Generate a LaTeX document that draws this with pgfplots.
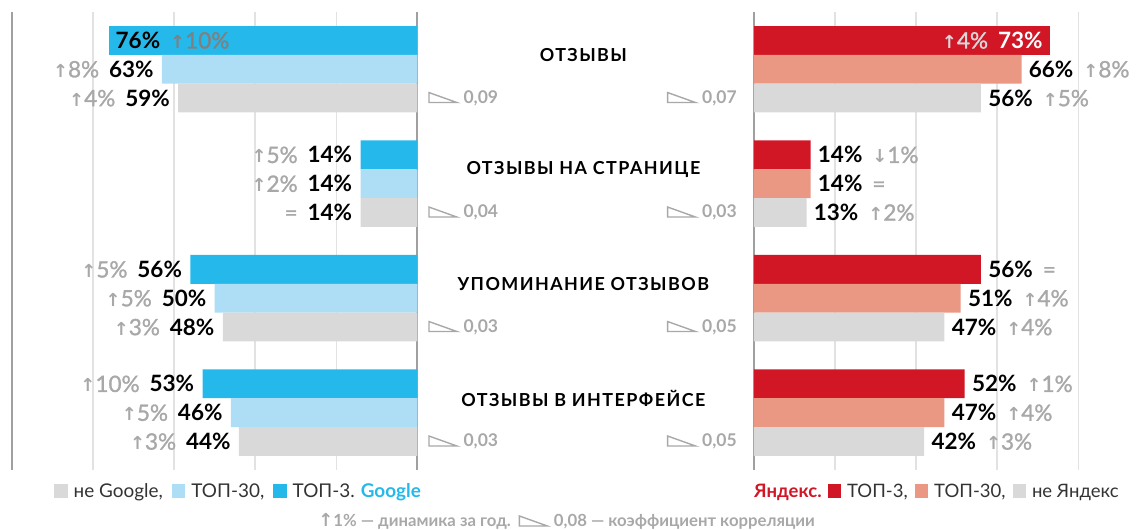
\documentclass[border=0pt]{standalone}
\usepackage{pgfplots}
\pgfplotsset{compat=1.18}
\usepackage{fontspec}
\setmainfont{Lato}
\newfontfamily\sym{DejaVu Sans}
\definecolor{gA}{HTML}{25B9EB}
\definecolor{gB}{HTML}{AEDDF6}
\definecolor{nn}{HTML}{D9D9D9}
\definecolor{yA}{HTML}{D11626}
\definecolor{yB}{HTML}{EA9784}
\definecolor{chg}{HTML}{A8A8A8}
\definecolor{gridc}{HTML}{E2E2E2}
\definecolor{axc}{HTML}{A0A0A0}
\definecolor{txt}{HTML}{333333}
\DeclareRobustCommand\arr{{\sym\bfseries\fontsize{9}{9}\selectfont ↑}}
\DeclareRobustCommand\darr{{\sym\bfseries\fontsize{9}{9}\selectfont ↓}}
\DeclareRobustCommand\semi{\addfontfeature{FakeBold=1.3}}
\DeclareRobustCommand\up[1]{\textcolor{chg}{\arr{\semi#1\%}}}
\DeclareRobustCommand\dn[1]{\textcolor{chg}{\darr{\semi#1\%}}}
\DeclareRobustCommand\eq{\textcolor{chg}{\semi=}}
\DeclareRobustCommand\gap{\hspace{5pt}}
\DeclareRobustCommand\V[1]{\textbf{#1\%}}
\newsavebox\tri
\DeclareRobustCommand\corr[1]{\textcolor{chg}{\usebox\tri\hspace{3pt}\textbf{#1}}}
\DeclareRobustCommand\sq[1]{\textcolor{#1}{\rule{6.8pt}{6.8pt}}}
\pgfplotsset{
  half/.style={
    scale only axis, height=230pt,
    ymin=-0.5, ymax=3.5, y dir=reverse,
    axis line style={draw=none},
    xtick={20,40,60,80}, xticklabels={}, ytick=\empty,
    major tick length=0pt,
    xmajorgrids, grid style={color=gridc, line width=0.7pt},
    extra x tick labels={},
    extra x tick style={grid style={color=axc, line width=1pt}},
    xbar, bar width=0.252,
    clip=false,
    point meta=explicit symbolic,
    nodes near coords,
    every node near coord/.append style={font=\fontsize{11.3}{12}\selectfont, inner sep=0pt, text=black},
  },
}
\tikzset{
  corrL/.style={anchor=west, xshift=2pt, font=\fontsize{8.8}{9}\selectfont},
  corrR/.style={anchor=east, xshift=-5pt, font=\fontsize{8.8}{9}\selectfont},
  cat/.style={font=\fontsize{9}{10}\selectfont\bfseries\addfontfeature{LetterSpace=8}},
}
\begin{document}
\sbox\tri{\tikz\draw[chg, line width=0.7pt] (0,0) -- (14pt,0) -- (0,5pt) -- cycle;}
\begin{tikzpicture}
\useasboundingbox (0,0) rectangle (573.5pt,266pt);
% ---------------- Google ----------------
\begin{axis}[half,
  at={(3.5pt,30pt)}, anchor=south west, width=203.5pt,
  xmin=0, xmax=100, x dir=reverse,
  extra x ticks={0,100},
  every node near coord/.append style={anchor=east, xshift=-4pt},
]
\addplot[draw=none, fill=gA, bar shift=-0.252,
  every node near coord/.append style={anchor=west, xshift=7pt}]
  coordinates {(76,0) [\V{76}\gap\textcolor{black!50}{\arr{\semi10\%}}]};
\addplot[draw=none, fill=gA, bar shift=-0.252] coordinates {
  (14,1) [\up{5}\gap\V{14}]
  (56,2) [\up{5}\gap\V{56}]
  (53,3) [\up{10}\gap\V{53}]
};
\addplot[draw=none, fill=gB, bar shift=0] coordinates {
  (63,0) [\up{8}\gap\V{63}]
  (14,1) [\up{2}\gap\V{14}]
  (50,2) [\up{5}\gap\V{50}]
  (46,3) [\up{5}\gap\V{46}]
};
\addplot[draw=none, fill=nn, bar shift=0.252] coordinates {
  (59,0) [\up{4}\gap\V{59}]
  (14,1) [\eq\gap\V{14}]
  (48,2) [\up{3}\gap\V{48}]
  (44,3) [\up{3}\gap\V{44}]
};
\node[corrL] at (axis cs:0,0.252) {\corr{0,09}};
\node[corrL] at (axis cs:0,1.252) {\corr{0,04}};
\node[corrL] at (axis cs:0,2.252) {\corr{0,03}};
\node[corrL] at (axis cs:0,3.252) {\corr{0,03}};
\node[cat] at (axis cs:-41,-0.126) {ОТЗЫВЫ};
\node[cat] at (axis cs:-41,0.874) {ОТЗЫВЫ НА СТРАНИЦЕ};
\node[cat] at (axis cs:-41,1.874) {УПОМИНАНИЕ ОТЗЫВОВ};
\node[cat] at (axis cs:-41,2.874) {ОТЗЫВЫ В ИНТЕРФЕЙСЕ};
\end{axis}
% ---------------- Yandex ----------------
\begin{axis}[half,
  at={(376pt,30pt)}, anchor=south west, width=197.5pt,
  xmin=0, xmax=96.93,
  extra x ticks={0},
  every node near coord/.append style={anchor=west, xshift=3.5pt},
]
\addplot[draw=none, fill=yA, bar shift=-0.252,
  every node near coord/.append style={anchor=east, xshift=-7pt, text=white}]
  coordinates {(73,0) [\textcolor{nn}{\arr{\semi4\%}}\gap\V{73}]};
\addplot[draw=none, fill=yA, bar shift=-0.252] coordinates {
  (14,1) [\V{14}\gap\dn{1}]
  (56,2) [\V{56}\gap\eq]
  (52,3) [\V{52}\gap\up{1}]
};
\addplot[draw=none, fill=yB, bar shift=0] coordinates {
  (66,0) [\V{66}\gap\up{8}]
  (14,1) [\V{14}\gap\eq]
  (51,2) [\V{51}\gap\up{4}]
  (47,3) [\V{47}\gap\up{4}]
};
\addplot[draw=none, fill=nn, bar shift=0.252] coordinates {
  (56,0) [\V{56}\gap\up{5}]
  (13,1) [\V{13}\gap\up{2}]
  (47,2) [\V{47}\gap\up{4}]
  (42,3) [\V{42}\gap\up{3}]
};
\node[corrR] at (axis cs:0,0.252) {\corr{0,07}};
\node[corrR] at (axis cs:0,1.252) {\corr{0,03}};
\node[corrR] at (axis cs:0,2.252) {\corr{0,05}};
\node[corrR] at (axis cs:0,3.252) {\corr{0,05}};
\end{axis}
% ---------------- legends ----------------
\node[anchor=base east, inner sep=0pt, font=\fontsize{9.5}{10}\selectfont, text=txt] at (209pt,16pt)
  {\sq{nn}\hspace{3pt}не Google,\hspace{4.5pt}\sq{gB}\hspace{3pt}ТОП-30,\hspace{4.5pt}\sq{gA}\hspace{3pt}ТОП-3.\hspace{3pt}\textcolor{gA}{\textbf{Google}}};
\node[anchor=base west, inner sep=0pt, font=\fontsize{9.3}{10}\selectfont, text=txt] at (376pt,16pt)
  {\textcolor{yA}{\textbf{Яндекс.}}\hspace{3pt}\sq{yA}\hspace{3pt}ТОП-3,\hspace{3.5pt}\sq{yB}\hspace{3pt}ТОП-30,\hspace{3.5pt}\sq{nn}\hspace{3pt}не Яндекс};
\node[anchor=base, inner sep=0pt, font=\fontsize{8.4}{9}\selectfont\bfseries, text=chg] at (282pt,1.5pt)
  {\arr1\% — динамика за год.\hspace{4pt}\usebox\tri\hspace{3pt}0,08 — коэффициент корреляции};
\end{tikzpicture}
\end{document}
